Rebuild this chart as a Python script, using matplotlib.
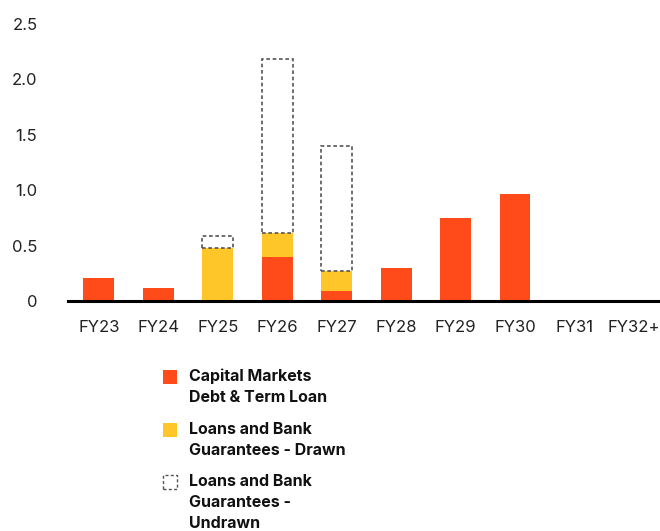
import numpy as np
import matplotlib.pyplot as plt
from matplotlib.patches import Rectangle

# Datos del grafico (A$bn)
years = ["FY23", "FY24", "FY25", "FY26", "FY27", "FY28", "FY29", "FY30", "FY31", "FY32+"]
capital_markets = [0.21, 0.12, 0.0, 0.40, 0.09, 0.30, 0.75, 0.97, 0.0, 0.0]
bank_drawn = [0.0, 0.0, 0.48, 0.21, 0.18, 0.0, 0.0, 0.0, 0.0, 0.0]
bank_undrawn = [0.0, 0.0, 0.11, 1.57, 1.13, 0.0, 0.0, 0.0, 0.0, 0.0]
y_ticks = [0, 0.5, 1.0, 1.5, 2.0, 2.5]
y_tick_labels = ["0", "0.5", "1.0", "1.5", "2.0", "2.5"]
legend_labels = [
    "Capital Markets\nDebt & Term Loan",
    "Loans and Bank\nGuarantees - Drawn",
    "Loans and Bank\nGuarantees -\nUndrawn",
]

red = "#FF4A1A"
yellow = "#FFC629"
dash_grey = "#555555"
dash_style = (0, (2.2, 1.6))

plt.rcParams["font.family"] = ["Inter", "DejaVu Sans"]

W, H = 660, 531
fig = plt.figure(figsize=(W / 100, H / 100), dpi=100)
ax = fig.add_axes([68 / W, 1 - 301 / H, 592 / W, 277 / H])

x = np.arange(len(years))
width = 0.52
cm = np.array(capital_markets)
drawn = np.array(bank_drawn)
undrawn = np.array(bank_undrawn)

ax.bar(x, cm, width, color=red, linewidth=0)
ax.bar(x, drawn, width, bottom=cm, color=yellow, linewidth=0)

# Solo se dibujan las cajas punteadas donde hay importe sin disponer
mask = undrawn > 0
ax.bar(x[mask], undrawn[mask], width, bottom=(cm + drawn)[mask], fill=False,
       edgecolor=dash_grey, linestyle=dash_style, linewidth=1.2)

ax.set_xlim(-0.52, 9.44)
ax.set_ylim(0, 2.5)
ax.set_xticks(x)
ax.set_xticklabels(years, fontsize=12, color="#222222")
ax.set_yticks(y_ticks)
ax.set_yticklabels(y_tick_labels, fontsize=12, color="#222222")
ax.tick_params(axis="x", length=0, pad=14)
ax.tick_params(axis="y", length=0, pad=22)

for side in ["top", "right", "left"]:
    ax.spines[side].set_visible(False)
ax.spines["bottom"].set_linewidth(2.2)
ax.spines["bottom"].set_color("black")

# Leyenda manual debajo del grafico (coordenadas en pixeles de la figura)
legend_styles = [
    dict(facecolor=red, edgecolor="none"),
    dict(facecolor=yellow, edgecolor="none"),
    dict(facecolor="none", edgecolor=dash_grey, linestyle=dash_style, linewidth=1.0),
]
row_tops = [370, 423, 475]
sq = 14
for top, label, style in zip(row_tops, legend_labels, legend_styles):
    fig.add_artist(Rectangle((163 / W, 1 - (top + sq) / H), sq / W, sq / H,
                             transform=fig.transFigure, **style))
    fig.text(189 / W, 1 - (top - 1) / H, label, fontsize=11.5, fontweight="bold",
             va="top", ha="left", linespacing=1.5, color="#111111")

fig.savefig("out.png", dpi=100)
